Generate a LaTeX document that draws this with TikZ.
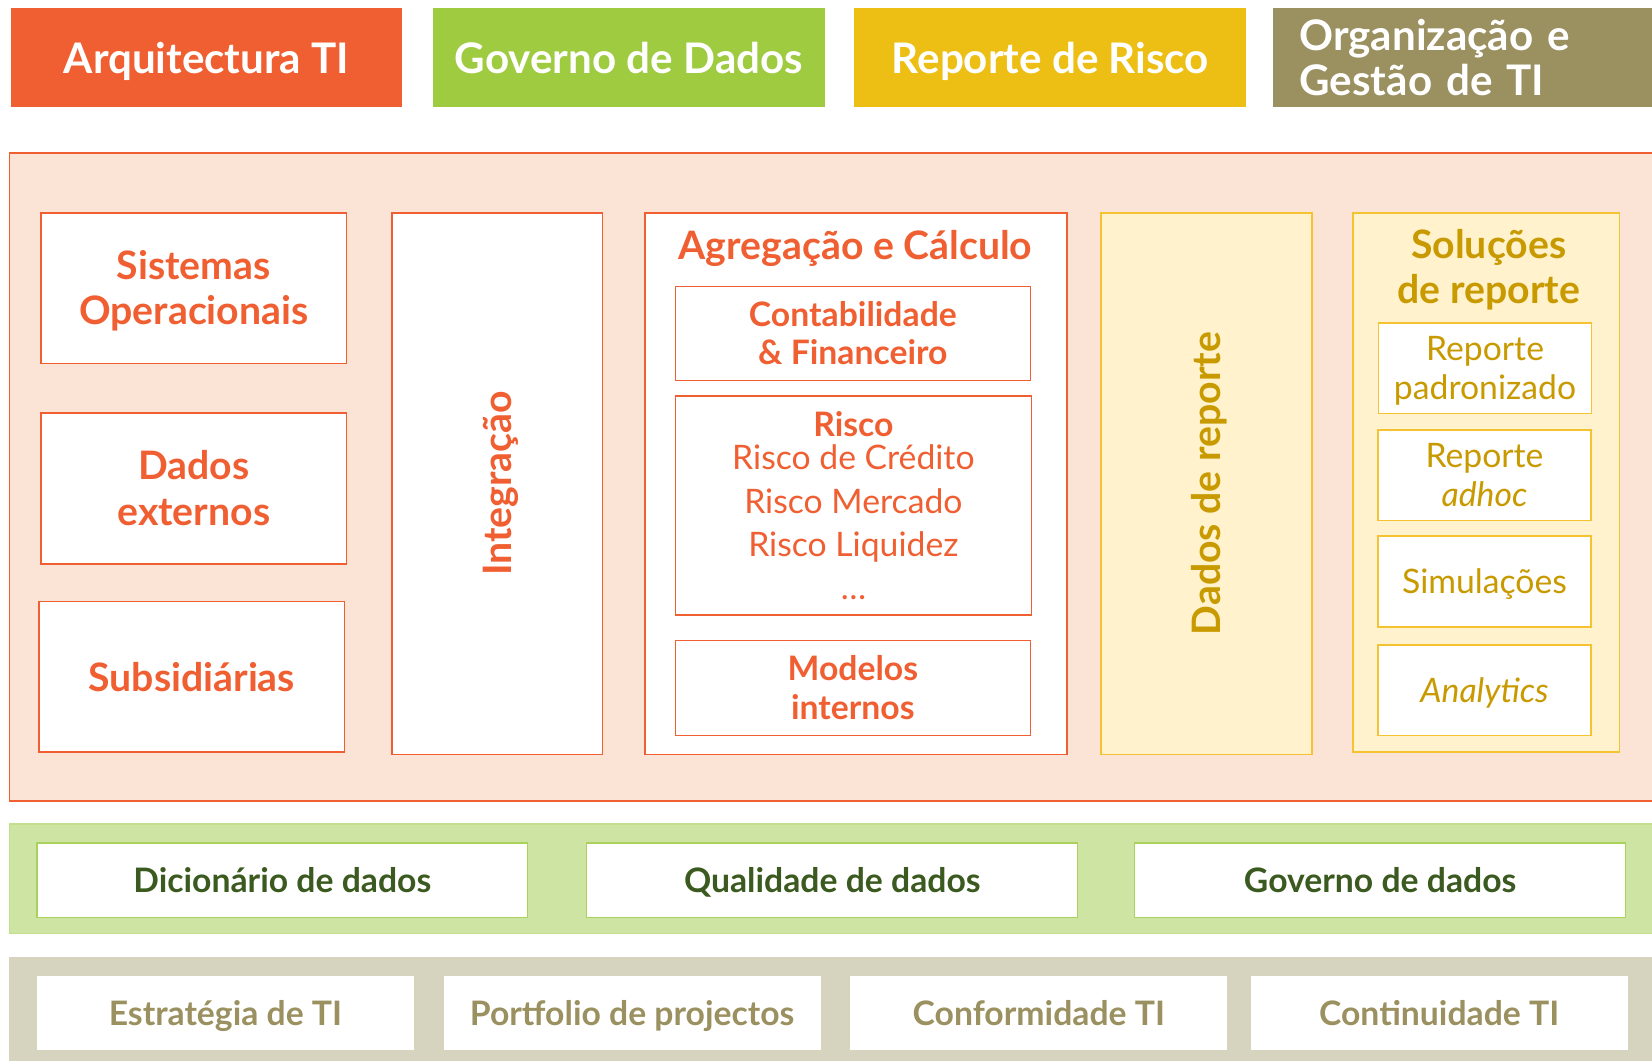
\documentclass[tikz,border=0pt]{standalone}
\usepackage{fontspec}
\setmainfont{Lato}

\definecolor{orangeA}{RGB}{240,95,50}
\definecolor{greenA}{RGB}{158,203,63}
\definecolor{yellowA}{RGB}{237,191,20}
\definecolor{oliveA}{RGB}{155,144,96}
\definecolor{peach}{RGB}{251,228,213}
\definecolor{paleyellow}{RGB}{255,242,204}
\definecolor{yellowline}{RGB}{245,194,50}
\definecolor{goldtext}{RGB}{200,154,0}
\definecolor{greenband}{RGB}{206,228,162}
\definecolor{greenline}{RGB}{169,209,92}
\definecolor{darkgreen}{RGB}{59,90,31}
\definecolor{grayband}{RGB}{214,211,190}

% text height = cap height + (lines-1) * baselineskip, so that the capitals sit centred
\tikzset{
  topbar/.style={fill=#1, text=white, inner sep=0pt, minimum width=186pt, minimum height=47pt,
    text height=14.4pt, text depth=0pt, font=\bfseries\fontsize{20}{21.5}\selectfont},
  redbox/.style={draw=orangeA, fill=white, text=orangeA, line width=0.8pt, inner sep=0pt, align=center},
  goldbox/.style={draw=yellowline, fill=white, text=goldtext, line width=0.8pt, inner sep=0pt, align=center,
    minimum width=101pt, minimum height=43pt, text height=#1, text depth=0pt,
    font=\fontsize{16}{18.5}\selectfont},
  goldbox/.default=30pt,
  greenbox/.style={draw=greenline, fill=white, text=darkgreen, line width=0.6pt, inner sep=0pt,
    minimum width=233pt, minimum height=35.5pt, text height=11.5pt, text depth=0pt,
    font=\bfseries\fontsize{16}{18}\selectfont},
  graybox/.style={fill=white, text=oliveA, inner sep=0pt, minimum width=179pt, minimum height=35.5pt,
    text height=11.5pt, text depth=0pt, font=\bfseries\fontsize{16}{18}\selectfont},
  big/.style={text height=#1, text depth=0pt, font=\bfseries\fontsize{18.6}{21.5}\selectfont},
  big/.default=34.9pt,
  mid/.style={text height=29.7pt, text depth=0pt, font=\bfseries\fontsize{16}{18.2}\selectfont}
}

\begin{document}
\begin{tikzpicture}[x=0.5pt,y=-0.5pt]
\clip (0,0) rectangle (1568,1007);
\fill[white] (0,0) rectangle (1568,1007);

% top bars
\node[topbar=orangeA] (arq) at (196,55) {Arquitectura TI};
\node[topbar=greenA] (gov) at (597,55) {Governo de Dados};
\node[topbar=yellowA] (rep) at (997,55) {Reporte de Risco};
\node[topbar=oliveA, anchor=west, text width=161pt, inner xsep=9.5pt, align=left,
  text depth=21.5pt] (org) at (1208,55) {Organização e\\Gestão de TI};

% architecture panel
\draw[fill=peach, draw=orangeA, line width=0.8pt] (9,145) rectangle (1600,760);

\node[redbox, big, minimum width=145pt, minimum height=71.5pt] (sis) at (184,273.5) {Sistemas\\Operacionais};
\node[redbox, big, minimum width=145pt, minimum height=71.5pt] (ext) at (184,463.5) {Dados\\externos};
\node[redbox, big=13.4pt, minimum width=145pt, minimum height=71.5pt] (sub) at (182,642.5) {Subsidiárias};

\node[redbox, minimum width=100pt, minimum height=257pt] (int) at (472,459) {};
\node[rotate=90, text=orangeA, big=13.4pt, inner sep=0pt] (intT) at (int.center) {Integração};

\node[redbox, minimum width=200.5pt, minimum height=257pt] (agr) at (812.5,459) {};
\node[text=orangeA, big=13.4pt, inner sep=0pt] (agrT) at (812,233) {Agregação e Cálculo};
\node[redbox, mid, minimum width=168.5pt, minimum height=44.5pt] (con) at (809.5,316.5) {Contabilidade\\\& Financeiro};
\node[redbox, minimum width=169pt, minimum height=104pt, text height=89pt, text depth=0pt,
  font=\fontsize{16}{20.5}\selectfont] (ris) at (810,480)
  {\textbf{Risco}\\[-4.5pt]Risco de Crédito\\Risco Mercado\\Risco Liquidez\\\dots};
\node[redbox, mid, minimum width=168.5pt, minimum height=45pt] (mod) at (809.5,653) {Modelos\\internos};

\node[draw=yellowline, fill=paleyellow, line width=0.8pt, minimum width=100pt, minimum height=257pt] (dad) at (1145,459) {};
\node[rotate=90, text=goldtext, big=13.4pt, inner sep=0pt] (dadT) at (dad.center) {Dados de reporte};

\node[draw=yellowline, fill=paleyellow, line width=0.8pt, minimum width=126.5pt, minimum height=256pt] (sol) at (1410.5,458) {};
\node[text=goldtext, big, align=center, inner sep=0pt] (solT) at (1413,253) {Soluções\\de reporte};
\node[goldbox] (pad) at (1409.5,349.5) {Reporte\\padronizado};
\node[goldbox] (adh) at (1409,451) {Reporte\\\textit{adhoc}};
\node[goldbox=11.5pt] (sim) at (1409,552) {Simulações};
\node[goldbox=11.5pt] (ana) at (1409,655) {\textit{Analytics}};

% data governance band
\draw[fill=greenband, draw=greenline!70, line width=0.6pt] (9,782) rectangle (1600,886);
\node[greenbox] (dic) at (268,835.5) {Dicionário de dados};
\node[greenbox] (qua) at (790,835.5) {Qualidade de dados};
\node[greenbox] (gdd) at (1310,835.5) {Governo de dados};

% IT management band
\fill[grayband] (9,908) rectangle (1600,1020);
\node[graybox] (est) at (214,961.5) {Estratégia de TI};
\node[graybox] (por) at (600,961.5) {Portfolio de projectos};
\node[graybox] (cnf) at (986,961.5) {Conformidade TI};
\node[graybox] (cnt) at (1366,961.5) {Continuidade TI};
\end{tikzpicture}
\end{document}
